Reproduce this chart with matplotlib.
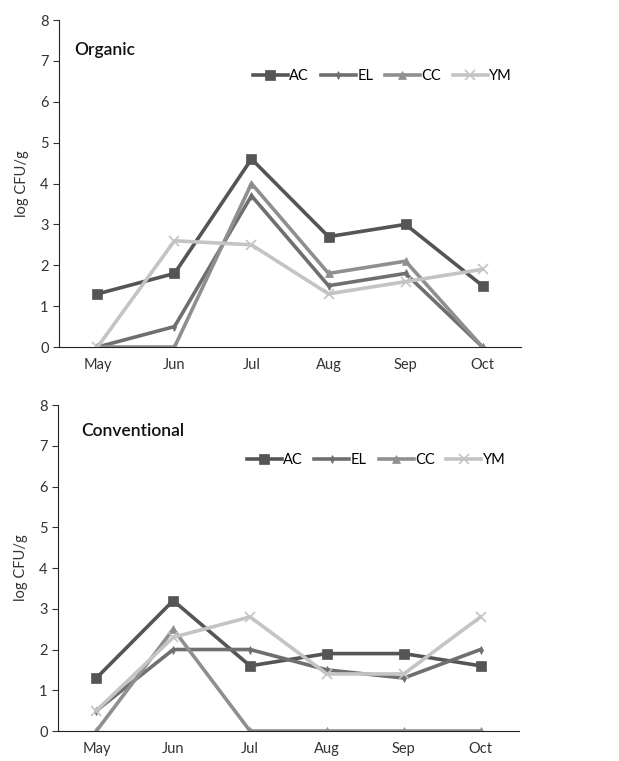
import matplotlib.pyplot as plt

plt.rcParams['font.family'] = ['Lato', 'DejaVu Sans']

months = ["May", "Jun", "Jul", "Aug", "Sep", "Oct"]
series = ["AC", "EL", "CC", "YM"]

# Organic farms
org_ac = [1.3, 1.8, 4.6, 2.7, 3.0, 1.5]
org_el = [0.0, 0.5, 3.7, 1.5, 1.8, 0.0]
org_cc = [0.0, 0.0, 4.0, 1.8, 2.1, 0.0]
org_ym = [0.0, 2.6, 2.5, 1.3, 1.6, 1.9]

# Conventional farms
con_ac = [1.3, 3.2, 1.6, 1.9, 1.9, 1.6]
con_el = [0.5, 2.0, 2.0, 1.5, 1.3, 2.0]
con_cc = [0.0, 2.5, 0.0, 0.0, 0.0, 0.0]
con_ym = [0.5, 2.3, 2.8, 1.4, 1.4, 2.8]

colors = ["#555555", "#6f6f6f", "#8f8f8f", "#c4c4c4"]
markers = ["s", "d", "^", "x"]
msizes = [7, 4, 6, 6.5]

fig = plt.figure(figsize=(6.19, 7.61), dpi=100)
ax_top = fig.add_axes([0.0953, 0.544, 0.7464, 0.4297])
ax_bot = fig.add_axes([0.0937, 0.0394, 0.7447, 0.4284])


def draw_panel(ax, data, title, tx, ty, lx, ly):
    x = range(len(months))
    for vals, name, c, m, ms in zip(data, series, colors, markers, msizes):
        ax.plot(x, vals, color=c, lw=2.6, marker=m, markersize=ms,
                markeredgewidth=1.2 if m == "x" else 0.5, label=name)
    ax.set_xlim(-0.5, len(months) - 0.5)
    ax.set_ylim(0, 8)
    ax.set_yticks(range(9))
    ax.set_xticks(list(x))
    ax.set_xticklabels(months)
    ax.tick_params(axis='x', length=0, pad=8, labelsize=10.5, colors="#333333")
    ax.tick_params(axis='y', length=4, direction='out', labelsize=10.5,
                   colors="#333333")
    for s in ["top", "right"]:
        ax.spines[s].set_visible(False)
    for s in ["left", "bottom"]:
        ax.spines[s].set_color("#222222")
    ax.set_ylabel("log CFU/g", fontsize=10.5, color="#333333", labelpad=8)
    ax.text(tx, ty, title, transform=ax.transAxes, fontsize=12.5,
            fontweight="semibold", color="#111111", ha="left", va="center")
    ax.legend(loc="center", bbox_to_anchor=(lx, ly), ncol=4, frameon=False,
              fontsize=10.5, handlelength=2.4, columnspacing=0.8,
              handletextpad=0.1)


draw_panel(ax_top, [org_ac, org_el, org_cc, org_ym], "Organic",
           0.032, 0.908, 0.70, 0.83)
draw_panel(ax_bot, [con_ac, con_el, con_cc, con_ym], "Conventional",
           0.05, 0.92, 0.69, 0.83)

fig.savefig("out.png", dpi=100)
